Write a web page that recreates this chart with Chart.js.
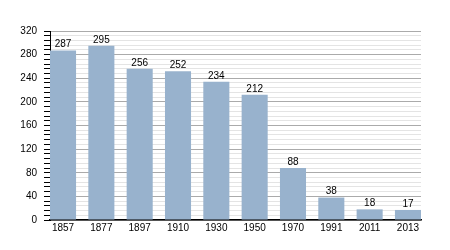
<!DOCTYPE html>
<html><head><meta charset="utf-8">
<script src="https://cdn.jsdelivr.net/npm/chart.js@4"></script>
<style>html,body{margin:0;padding:0;background:#fff}#wrap{width:450px;height:250px}</style>
</head><body><div id="wrap"><canvas id="c" width="450" height="250"></canvas></div>
<script>
const years = ['1857','1877','1897','1910','1930','1950','1970','1991','2011','2013'];
const population = [287,295,256,252,234,212,88,38,18,17];
const yMin = 0, yMax = 320, yMajorStep = 40, yMinorStep = 8;

const barLabels = {
  id: 'barLabels',
  afterDatasetsDraw(chart) {
    const ctx = chart.ctx;
    const meta = chart.getDatasetMeta(0);
    ctx.save();
    ctx.font = '10px "Liberation Sans", Arial, sans-serif';
    ctx.fillStyle = '#000';
    ctx.textAlign = 'center';
    ctx.textBaseline = 'bottom';
    meta.data.forEach((bar, i) => {
      ctx.fillText(String(population[i]), bar.x, bar.y - 1);
    });
    ctx.restore();
  }
};

new Chart(document.getElementById('c'), {
  type: 'bar',
  data: {
    datasets: [{
      data: population.map((v, i) => ({x: i, y: v})),
      backgroundColor: '#98b2cd',
      borderWidth: 0,
      barPercentage: 0.68,
      categoryPercentage: 1
    }]
  },
  options: {
    responsive: false,
    animation: false,
    layout: {padding: {left: 0, right: 29, top: 31, bottom: 0}},
    plugins: {legend: {display: false}, tooltip: {enabled: false}},
    scales: {
      x: {
        type: 'linear',
        offset: false,
        min: -0.34,
        max: years.length - 1 + 0.34,
        afterBuildTicks: s => { s.ticks = years.map((_, i) => ({value: i})); },
        afterFit: s => { s.height = 30; },
        grid: {display: false, drawTicks: false, offset: false},
        border: {color: '#000', width: 1.5},
        ticks: {
          autoSkip: false, maxRotation: 0, padding: 2,
          color: '#000',
          font: {family: '"Liberation Sans", Arial, sans-serif', size: 10},
          callback: v => years[v] ?? ''
        }
      },
      y: {
        min: yMin, max: yMax,
        afterFit: s => { s.width = 50; },
        border: {color: '#000', width: 1},
        grid: {
          color: c => (c.tick.value % yMajorStep === 0 ? '#aaaaaa' : '#e4e4e4'),
          tickColor: '#000',
          tickLength: 6,
          lineWidth: 1
        },
        ticks: {
          stepSize: yMinorStep,
          autoSkip: false,
          padding: 7,
          color: '#000',
          font: {family: '"Liberation Sans", Arial, sans-serif', size: 10},
          callback: v => (v % yMajorStep === 0 ? String(v) : '')
        }
      }
    }
  },
  plugins: [barLabels]
});
</script></body></html>
